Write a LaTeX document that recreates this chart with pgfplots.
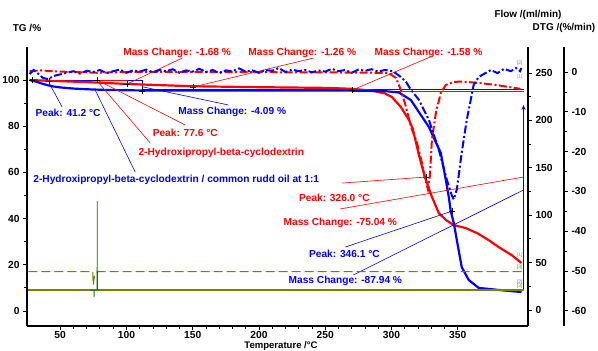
\documentclass[border=0pt]{standalone}
\usepackage{fontspec}
\setmainfont{Liberation Sans}
\usepackage{pgfplots}
\pgfplotsset{compat=1.18}
\usetikzlibrary{arrows.meta}
\definecolor{cred}{RGB}{255,0,0}
\definecolor{cblue}{RGB}{0,0,255}
\definecolor{fgreen}{RGB}{90,140,0}
\definecolor{folive}{RGB}{128,128,0}
\definecolor{fdark}{RGB}{0,120,0}
\begin{document}
\begin{tikzpicture}[font=\bfseries]
\useasboundingbox (-27bp,-25bp) rectangle (571bp,326bp);
\pgfplotsset{
  every axis/.append style={scale only axis, width=501bp, height=279bp,
    at={(0,0)}, anchor=south west, xmin=25, xmax=403, clip=false,
    tick label style={font=\fontsize{10.3}{12}\selectfont\bfseries},
    /pgf/number format/assume math mode=true,
    major tick length=4bp, minor tick length=2.5bp, tick align=outside,
    tick style={black, line width=0.8pt},
    axis line style={line width=1.6pt}},
}
% ---------- main TG axis ----------
\begin{axis}[axis x line*=bottom, axis y line*=left,
  ymin=-6.5, ymax=114.3, xtick={50,100,...,350}, minor x tick num=4,
  ytick={0,20,...,100}, minor y tick num=1,
  xticklabel style={inner sep=1.5bp}]
% thin step lines
\addplot[cblue, line width=0.6pt] coordinates {(27.3,100) (111.9,100) (111.9,95.2)};
\addplot[cblue, line width=0.6pt] coordinates {(111.9,96.1) (399.6,96.1)};
\addplot[cred, line width=0.6pt] coordinates {(270.5,95.0) (399.6,95.0)};
\addplot[cred, line width=0.6pt] coordinates {(77.9,100) (100.6,100) (100.6,98.3)};
% TG red
\addplot[cred, line width=2.2pt] coordinates {
(27,100) (40,99.7) (60,99.3) (78,98.9) (100,98.3) (150,97.3) (200,96.9) (250,96.6)
(270,96.2) (285,95.4) (295,94.2) (300.4,92.6) (307.1,88.3) (313.2,82.7) (316,79)
(320.7,67.5) (325.2,58.0) (330.5,49.4) (335.7,42.4) (341,39.4) (347,37.2) (356,35.9)
(365,33.6) (373.3,30.7) (380.8,27.7) (390.6,24.2) (398.1,20.8)};
% TG blue
\addplot[cblue, line width=2.2pt] coordinates {
(27,100) (32,99.3) (36,98.5) (41,97.7) (45,97.2) (50,96.8) (60,96.3) (70,96.0)
(85,95.7) (110,95.5) (200,95.5) (270,95.4) (295,95.2) (305.6,94.6) (314.7,91.3)
(320.7,86.1) (328.2,79.7) (337.2,68.4) (341,56.7) (343.2,49.4) (344.7,43.3)
(347,38.1) (349.3,30.7) (353,19.0) (358.3,13.4) (365.8,10.0) (380.8,9.1) (398.1,8.2)};
% right step arrow
\draw[cblue, line width=0.8pt, -{Stealth[length=5pt,width=4pt]}] (axis cs:399.6,8.5) -- (axis cs:399.6,89.2);
% markers
\addplot[only marks, mark=+, mark size=3pt, black, line width=0.7pt] coordinates {
(28.9,100) (41.7,99.6) (77.9,100) (100.6,98.3) (111.9,95.2) (150.4,97.0) (270.5,95.7)
(326.4,58.0) (346.0,43.3)};
% leader lines
\draw[cred, line width=0.6pt] (axis cs:142.1,109.5) -- (axis cs:100.6,98.3);
\draw[cred, line width=0.6pt] (axis cs:241.0,109.5) -- (axis cs:150.4,97.0);
\draw[cred, line width=0.6pt] (axis cs:329.4,110.0) -- (axis cs:270.5,95.7);
\draw[cblue, line width=0.6pt] (axis cs:41.7,98.7) -- (axis cs:51.5,88.3);
\draw[cblue, line width=0.6pt] (axis cs:112.7,97.0) -- (axis cs:176.9,89.2);
\draw[cred, line width=0.6pt] (axis cs:77.9,100.0) -- (axis cs:144.4,80.5);
\draw[cred, line width=0.6pt] (axis cs:77.9,99.6) -- (axis cs:118.0,72.7);
\draw[cblue, line width=0.6pt] (axis cs:76.4,95.7) -- (axis cs:106.6,60.2);
\draw[cred, line width=0.6pt] (axis cs:262.9,55.4) -- (axis cs:326.4,58.0);
\draw[cred, line width=0.6pt] (axis cs:261.4,44.2) -- (axis cs:399.6,58.0);
\draw[cblue, line width=0.6pt] (axis cs:265.2,27.7) -- (axis cs:346.0,43.3);
\draw[cblue, line width=0.6pt] (axis cs:271.2,15.6) -- (axis cs:399.6,52.4);
% labels
\begin{scope}[font=\fontsize{10.2}{12}\selectfont\bfseries]
\node[cred] at (axis cs:138.3,111.7) {Mass Change: -1.68 \%};
\node[cred] at (axis cs:232.7,111.7) {Mass Change: -1.26 \%};
\node[cred] at (axis cs:327.9,111.7) {Mass Change: -1.58 \%};
\node[cblue] at (axis cs:56.0,85.7) {Peak: 41.2 °C};
\node[cblue] at (axis cs:179.9,86.1) {Mass Change: -4.09 \%};
\node[cred] at (axis cs:144.4,77.1) {Peak: 77.6 °C};
\node[cred] at (axis cs:171.6,68.4) {2-Hydroxipropyl-beta-cyclodextrin};
\node[cblue] at (axis cs:137.6,56.7) {2-Hydroxipropyl-beta-cyclodextrin / common rudd oil at 1:1};
\node[cred] at (axis cs:256.9,48.9) {Peak: 326.0 °C};
\node[cred] at (axis cs:261.4,38.1) {Mass Change: -75.04 \%};
\node[cblue] at (axis cs:264.5,24.7) {Peak: 346.1 °C};
\node[cblue] at (axis cs:265.2,13.0) {Mass Change: -87.94 \%};
\end{scope}
\end{axis}
% ---------- Flow axis ----------
\begin{axis}[axis y line*=right, axis x line=none,
  ymin=-16.9, ymax=277.4, ytick={0,50,...,250}, minor y tick num=1]
\addplot[folive, line width=1.1pt] coordinates {(26,21.1) (399.6,21.1)};
\addplot[fgreen, line width=1.1pt, dash pattern=on 9bp off 4bp] coordinates {
(26,40.4) (74.6,40.4) (75,26.4) (75.8,35.1) (77.6,39.8) (79,40.4) (399.6,40.4)};
\addplot[fdark, line width=0.8pt] coordinates {
(72,21.1) (75.5,21.1) (75.6,13.7) (75.8,21.1) (77.9,21.1) (78,115) (78.1,21.1) (80,21.1)};
\node[font=\fontsize{5}{6}\selectfont, cred!60] at (axis cs:396.8,57.5) {[1]};
\node[font=\fontsize{5}{6}\selectfont, fgreen] at (axis cs:396.8,45) {[3]};
\node[font=\fontsize{5}{6}\selectfont, cblue!60] at (axis cs:396.8,29.5) {[2]};
\node[font=\fontsize{5}{6}\selectfont, folive] at (axis cs:396.8,25) {[3]};
\end{axis}
% ---------- DTG curves ----------
\begin{axis}[hide axis, ymin=-63.8, ymax=6.28]
\addplot[cred, line width=2pt, dash pattern=on 8bp off 2.5bp on 2bp off 2.5bp] coordinates {
(27,0.2) (35,0.4) (50,0.1) (78,-0.2) (100,0) (150,0) (250,-0.1) (290,-0.2) (298,-0.3)
(303.4,-1.5) (307.1,-4.5) (310.9,-8.75) (314.7,-13.75) (319.2,-17.75) (322.9,-22.75)
(325.5,-27) (327.5,-29.5) (329,-26) (330.5,-17) (333.5,-10.25) (337.2,-5.25)
(341,-3.25) (347,-2.5) (353,-2.4) (365.8,-2.75) (378.6,-3.25) (388.3,-3.75) (397.4,-4.25)};
\addplot[cblue, line width=2pt, dash pattern=on 8bp off 2.5bp on 2bp off 2.5bp] coordinates {
(27,-0.5) (30,0.5) (33,-0.3) (37,-1.5) (41,-1.8) (45,-1.0) (50,-0.6) (55,-0.2) (60,0.2)
(65,-0.4) (70,0.3) (75,0.0) (80,0.5) (85,-0.3) (90,0.2) (95,0.6) (100,-0.2) (105,0.4)
(110,0.1) (115,0.6) (120,-0.1) (125,0.5) (130,0.2) (135,0.7) (140,-0.2) (145,0.4)
(150,0.1) (155,0.8) (160,0.0) (165,0.5) (170,-0.3) (175,0.4) (180,0.2) (185,0.9)
(190,0.1) (195,0.4) (200,-0.2) (205,0.5) (210,0.3) (215,1.0) (220,0.0) (225,0.6)
(230,0.2) (235,0.5) (240,-0.1) (245,0.4) (250,0.1) (255,0.8) (260,0.2) (265,0.5)
(270,-0.2) (275,0.6) (280,0.3) (285,0.7) (290,0.1) (295,0.5) (299,0.3)
(302,0) (307,-1.25) (311,-2.5) (314.7,-4.5) (320.7,-7) (328.2,-12) (335.7,-19.5)
(341.7,-27) (345.5,-31) (347,-32) (349.3,-29.5) (353,-20.25) (356.8,-12) (359.8,-7)
(362,-3.25) (365.8,-1.25) (371,-0.25) (375,0.5) (380,-0.3) (385,0.8) (390,0.2)
(394,1.0) (397,0.2) (398,1.0)};
\node[font=\fontsize{5}{6}\selectfont, cblue!60] at (axis cs:396.8,2.3) {[2]};
\node[font=\fontsize{5}{6}\selectfont, cred!60] at (axis cs:396.8,-1.2) {[1]};
\end{axis}
% ---------- DTG scale ----------
\begin{axis}[at={(36bp,0)}, axis y line*=right, axis x line=none,
  ymin=-63.8, ymax=6.28, ytick={-60,-50,...,0}, minor y tick num=1]
\end{axis}
% ---------- titles ----------
\begin{scope}[font=\fontsize{10}{12}\selectfont\bfseries]
\node at (0bp,298bp) {TG /\%};
\node at (501bp,311.5bp) {Flow /(ml/min)};
\node at (537bp,298bp) {DTG /(\%/min)};
\node[anchor=base, inner sep=0pt, font=\fontsize{9.6}{11}\selectfont\bfseries] at (254bp,-22.8bp) {Temperature /°C};
\end{scope}
\end{tikzpicture}
\end{document}
